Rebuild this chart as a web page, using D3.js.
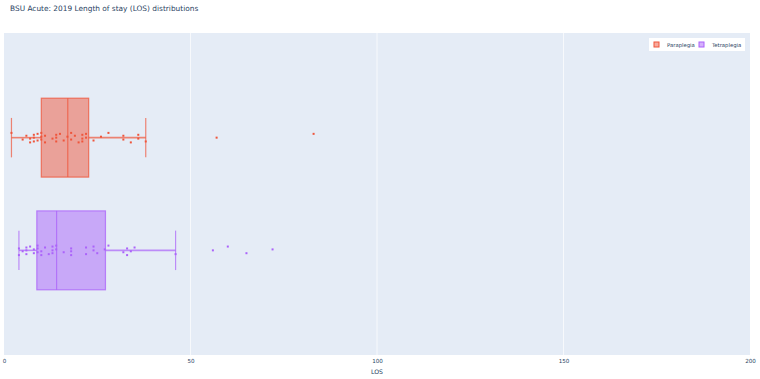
<!DOCTYPE html>
<html>
<head>
<meta charset="utf-8">
<script src="https://cdn.jsdelivr.net/npm/d3@7"></script>
<style>
  body { margin: 0; background: #fff; }
  svg { display: block; font-family: "DejaVu Sans", Verdana, sans-serif; }
</style>
</head>
<body>
<svg id="chart" width="760" height="379"></svg>
<script>
//trace names and colours
const groups = ["Paraplegia", "Tetraplegia"];
const colors = ["#EF553B", "#AB63FA"];

//LOS values (days) for each patient
const paraLOS = [2, 5, 6, 7, 7, 8, 8, 8, 9, 9, 10, 10, 10, 11, 11, 13, 14, 14, 14, 15, 16, 17,
                 18, 18, 19, 20, 21, 21, 21, 22, 22, 24, 26, 28, 32, 32, 34, 36, 36, 38, 57, 83];
const tetraLOS = [4, 4, 5, 6, 6, 6, 7, 8, 8, 9, 9, 9, 10, 10, 11, 12, 13, 13, 13, 14, 14, 16,
                  18, 18, 18, 22, 22, 24, 24, 25, 27, 28, 32, 33, 33, 34, 35, 46, 56, 60, 65, 72];

//box statistics, as drawn
const lowerFence = [2, 4];
const q1 = [10, 8.8];
const median = [17.1, 14.1];
const q3 = [22.7, 27.2];
const upperFence = [38, 46];

//axis ticks
const xTicks = [0, 50, 100, 150, 200];

const values = [paraLOS, tetraLOS];

const svg = d3.select('#chart');
const margin = ({top: 33, right: 10, bottom: 24, left: 4});
const width = 760, height = 379;
const textColor = "#2a3f5f";

//plot background
svg.append("rect")
    .attr("x", margin.left)
    .attr("y", margin.top)
    .attr("width", width - margin.left - margin.right)
    .attr("height", height - margin.top - margin.bottom)
    .attr("fill", "#E5ECF6");

const x = d3.scaleLinear()
    .domain([0, 200])
    .range([margin.left, width - margin.right]);

//one category, two grouped boxes
const y = d3.scaleBand()
    .domain(groups)
    .range([margin.top, height - margin.bottom])
    .paddingInner(0)
    .paddingOuter(3 / 7);
const boxH = y.bandwidth() * 0.7;

//grid lines
svg.append("g")
    .selectAll("line")
    .data(xTicks.slice(1, -1))
    .join("line")
        .attr("x1", d => x(d))
        .attr("x2", d => x(d))
        .attr("y1", margin.top)
        .attr("y2", height - margin.bottom)
        .attr("stroke", "#fff")
        .attr("stroke-opacity", 0.7)
        .attr("stroke-width", 1);

//x axis
const xAxis = g => g
    .attr("transform", `translate(0,${height - margin.bottom})`)
    .call(d3.axisBottom(x).tickValues(xTicks).tickSize(0).tickPadding(4))
    .call(g => g.select(".domain").remove())
    .call(g => g.selectAll("text")
        .attr("fill", textColor)
        .style("font-size", "5.6px")
        .style("font-family", '"DejaVu Sans", Verdana, sans-serif'));
svg.append("g").call(xAxis);

svg.append("text")
    .attr("x", x(100))
    .attr("y", 374)
    .attr("text-anchor", "middle")
    .attr("fill", textColor)
    .style("font-size", "6.2px")
    .text("LOS");

//boxes
groups.forEach((name, i) => {
    const c = y(name) + y.bandwidth() / 2;
    const g = svg.append("g");

    //whiskers
    g.selectAll("line.whisker")
        .data([[lowerFence[i], q1[i]], [q3[i], upperFence[i]]])
        .join("line")
            .attr("x1", d => x(d[0]))
            .attr("x2", d => x(d[1]))
            .attr("y1", c)
            .attr("y2", c)
            .attr("stroke", colors[i])
            .attr("stroke-opacity", 0.7)
            .attr("stroke-width", 1.6);

    //whisker caps
    g.selectAll("line.cap")
        .data([lowerFence[i], upperFence[i]])
        .join("line")
            .attr("x1", d => x(d))
            .attr("x2", d => x(d))
            .attr("y1", c - boxH / 4)
            .attr("y2", c + boxH / 4)
            .attr("stroke", colors[i])
            .attr("stroke-opacity", 0.7)
            .attr("stroke-width", 1.2);

    g.append("rect")
        .attr("x", x(q1[i]))
        .attr("y", c - boxH / 2)
        .attr("width", x(q3[i]) - x(q1[i]))
        .attr("height", boxH)
        .attr("fill", colors[i])
        .attr("fill-opacity", 0.5)
        .attr("stroke", colors[i])
        .attr("stroke-opacity", 0.75)
        .attr("stroke-width", 1.2);

    g.append("line")
        .attr("x1", x(median[i]))
        .attr("x2", x(median[i]))
        .attr("y1", c - boxH / 2)
        .attr("y2", c + boxH / 2)
        .attr("stroke", colors[i])
        .attr("stroke-opacity", 0.75)
        .attr("stroke-width", 1.2);

    //jittered points
    g.selectAll("rect.pt")
        .data(values[i])
        .join("rect")
            .attr("x", d => x(d) - 1)
            .attr("y", (d, j) => c - 1 + (((j * 7 + i * 3) % 11) - 5) * 0.95)
            .attr("width", 2)
            .attr("height", 2)
            .attr("fill", colors[i]);
});

//title
svg.append("text")
    .attr("x", 10)
    .attr("y", 10.8)
    .attr("fill", textColor)
    .style("font-size", "7.4px")
    .text("BSU Acute: 2019 Length of stay (LOS) distributions");

//legend
const legend = svg.append("g");
legend.append("rect")
    .attr("x", 649)
    .attr("y", 38)
    .attr("width", 96)
    .attr("height", 13)
    .attr("fill", "#fff");
const legendX = [654, 699];
groups.forEach((name, i) => {
    legend.append("rect")
        .attr("x", legendX[i])
        .attr("y", 42)
        .attr("width", 5)
        .attr("height", 5)
        .attr("fill", colors[i])
        .attr("fill-opacity", 0.5)
        .attr("stroke", colors[i])
        .attr("stroke-width", 1);
    legend.append("text")
        .attr("x", legendX[i] + 13)
        .attr("y", 46.8)
        .attr("fill", textColor)
        .style("font-size", "5.3px")
        .text(name);
});
</script>
</body>
</html>
